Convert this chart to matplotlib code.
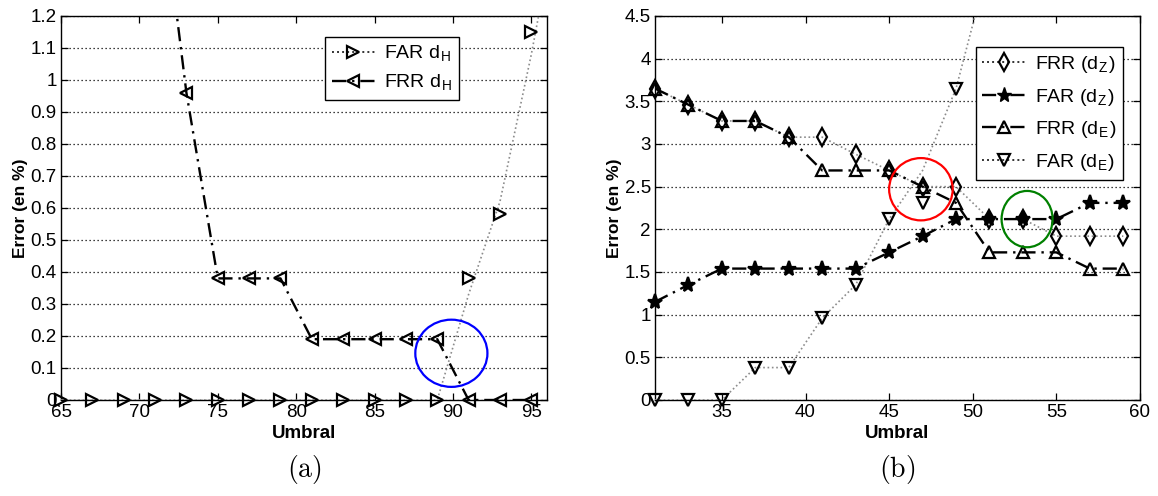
import numpy as np
import matplotlib
matplotlib.use("Agg")
import matplotlib.pyplot as plt
from matplotlib.lines import Line2D
from matplotlib.patches import Ellipse
from matplotlib.ticker import FuncFormatter

plt.rcParams["font.family"] = ["Liberation Sans", "DejaVu Sans"]
plt.rcParams["mathtext.fontset"] = "cm"

# ---------------- (a) Hamming distance ----------------
umbral_a = np.arange(65, 97, 2)                      # 65 .. 95
far_h = [0, 0, 0, 0, 0, 0, 0, 0, 0, 0, 0, 0, 0, 0.38, 0.58, 1.15]
far_h_curve_x = [65, 89, 91, 93, 95, 97]
far_h_curve_y = [0, 0, 0.33, 0.62, 1.08, 1.60]
frr_h_x = np.arange(71, 97, 2)                       # 71 .. 95
frr_h = [1.75, 0.96, 0.38, 0.38, 0.38, 0.19, 0.19, 0.19, 0.19, 0.19, 0, 0, 0]

# ---------------- (b) Z and Euclidean distance ----------------
umbral_b = np.arange(31, 61, 2)                      # 31 .. 59
frr_z = [3.65, 3.46, 3.27, 3.27, 3.08, 3.08, 2.88, 2.69, 2.50, 2.50, 2.12, 2.12, 1.92, 1.92, 1.92]
far_z = [1.15, 1.35, 1.54, 1.54, 1.54, 1.54, 1.54, 1.73, 1.92, 2.12, 2.12, 2.12, 2.12, 2.31, 2.31]
frr_e = [3.65, 3.46, 3.27, 3.27, 3.08, 2.69, 2.69, 2.69, 2.50, 2.31, 1.73, 1.73, 1.73, 1.54, 1.54]
far_e_x = np.arange(31, 51, 2)                       # 31 .. 49
far_e = [0, 0, 0, 0.38, 0.38, 0.96, 1.35, 2.12, 2.31, 3.65]
far_e_curve_x = np.arange(31, 53, 2)                 # 31 .. 51
far_e_curve_y = [0, 0, 0, 0.38, 0.38, 0.96, 1.35, 2.12, 2.69, 3.65, 5.15]

# Equal-error regions highlighted on each panel: (x, y, width, height, colour)
eer_a = [(89.9, 0.146, 4.6, 0.21, "#0000ff")]
eer_b = [(46.9, 2.47, 3.8, 0.73, "#ff0000"), (53.25, 2.12, 3.05, 0.66, "#008000")]

DOT = (0, (1, 1.6))
DASHDOT = (0, (6, 2.5, 1, 2.5))
GREY = "0.55"
TICK_FS = 13.5
LEG_FS = 14

fig = plt.figure(figsize=(11.58, 4.96), dpi=100)
ax1 = fig.add_axes([61 / 1158, 1 - 400 / 496, 486 / 1158, 384 / 496])
ax2 = fig.add_axes([655 / 1158, 1 - 400 / 496, 485 / 1158, 384 / 496])


def fmt(v, _pos):
    return "%g" % round(v, 3)


def markers(ax, x, y, marker, size, filled=False, ylim=None):
    x = np.asarray(x, float)
    y = np.asarray(y, float)
    keep = (y >= ylim[0]) & (y <= ylim[1])
    ax.plot(x[keep], y[keep], ls="none", marker=marker, ms=size,
            mec="k", mew=1.6, mfc="k" if filled else "none",
            clip_on=False, zorder=4)


def style(ax, xlim, ylim, xticks, yticks):
    ax.set_xlim(*xlim)
    ax.set_ylim(*ylim)
    ax.set_xticks(xticks)
    ax.set_yticks(yticks)
    ax.yaxis.set_major_formatter(FuncFormatter(fmt))
    ax.xaxis.set_major_formatter(FuncFormatter(fmt))
    ax.tick_params(direction="in", length=5, width=0.9, top=True, right=True,
                   labelsize=TICK_FS, pad=3)
    ax.grid(True, axis="y", color="k", ls=(0, (1, 2.2)), lw=0.9)
    ax.set_axisbelow(True)
    for s in ax.spines.values():
        s.set_linewidth(1.0)
        s.set_color("k")
    ax.set_xlabel("Umbral", fontsize=13.5, fontweight="bold", labelpad=3)
    ax.set_ylabel("Error (en %)", fontsize=12.5, fontweight="bold", labelpad=2)


def legend(ax, handles, labels, anchor, spacing, pad):
    leg = ax.legend(handles, labels, loc="upper right", bbox_to_anchor=anchor,
                    fontsize=LEG_FS, frameon=True, fancybox=False, framealpha=1,
                    edgecolor="k", handlelength=2.2, handletextpad=0.5,
                    borderpad=pad, labelspacing=spacing, borderaxespad=0)
    leg.get_frame().set_linewidth(1.0)
    return leg


# ---- panel (a)
ylim_a = (0, 1.2)
ax1.plot(far_h_curve_x, far_h_curve_y, ls=DOT, color=GREY, lw=1.2, zorder=3)
ax1.plot(frr_h_x, frr_h, ls=DASHDOT, color="k", lw=1.7, zorder=3)
markers(ax1, umbral_a, far_h, ">", 8, ylim=ylim_a)
markers(ax1, frr_h_x, frr_h, "<", 8, ylim=ylim_a)
style(ax1, (65, 96), ylim_a, np.arange(65, 96, 5), np.arange(0, 1.21, 0.1))
for cx, cy, w, h, c in eer_a:
    ax1.add_patch(Ellipse((cx, cy), w, h, fill=False, ec=c, lw=1.6, zorder=5, clip_on=False))

leg_a = [
    Line2D([], [], ls=DOT, color="0.2", lw=1.4, marker=">", ms=8, mec="k", mew=1.6, mfc="none"),
    Line2D([], [], ls=DASHDOT, color="k", lw=1.7, marker="<", ms=8, mec="k", mew=1.6, mfc="none"),
]
legend(ax1, leg_a, [r"FAR d$_\mathregular{H}$", r"FRR d$_\mathregular{H}$"],
       (0.819, 0.945), 0.45, 0.35)

# ---- panel (b)
ylim_b = (0, 4.5)
ax2.plot(umbral_b, frr_z, ls=DOT, color=GREY, lw=1.2, zorder=3)
ax2.plot(far_e_curve_x, far_e_curve_y, ls=DOT, color=GREY, lw=1.2, zorder=3)
ax2.plot(umbral_b, far_z, ls=DASHDOT, color="k", lw=1.7, zorder=3)
ax2.plot(umbral_b, frr_e, ls=DASHDOT, color="k", lw=1.7, zorder=3)
markers(ax2, umbral_b, frr_z, "d", 9, ylim=ylim_b)
markers(ax2, umbral_b, far_z, "*", 11, filled=True, ylim=ylim_b)
markers(ax2, umbral_b, frr_e, "^", 8, ylim=ylim_b)
markers(ax2, far_e_x, far_e, "v", 8, ylim=ylim_b)
style(ax2, (31, 60), ylim_b, np.arange(35, 61, 5), np.arange(0, 4.51, 0.5))
for cx, cy, w, h, c in eer_b:
    ax2.add_patch(Ellipse((cx, cy), w, h, fill=False, ec=c, lw=1.6, zorder=5, clip_on=False))

leg_b = [
    Line2D([], [], ls=DOT, color="0.2", lw=1.4, marker="d", ms=9, mec="k", mew=1.6, mfc="none"),
    Line2D([], [], ls=DASHDOT, color="k", lw=1.7, marker="*", ms=11, mec="k", mfc="k"),
    Line2D([], [], ls=DASHDOT, color="k", lw=1.7, marker="^", ms=8, mec="k", mew=1.6, mfc="none"),
    Line2D([], [], ls=DOT, color="0.2", lw=1.4, marker="v", ms=8, mec="k", mew=1.6, mfc="none"),
]
legend(ax2, leg_b, [r"FRR (d$_\mathregular{Z}$)", r"FAR (d$_\mathregular{Z}$)",
                    r"FRR (d$_\mathregular{E}$)", r"FAR (d$_\mathregular{E}$)"],
       (0.965, 0.919), 0.6, 0.35)

# panel captions
fig.text(304 / 1158, 1 - 470 / 496, r"$\mathrm{(a)}$", fontsize=20, ha="center", va="center")
fig.text(897 / 1158, 1 - 470 / 496, r"$\mathrm{(b)}$", fontsize=20, ha="center", va="center")

fig.savefig("out.png", dpi=100, facecolor="white")
